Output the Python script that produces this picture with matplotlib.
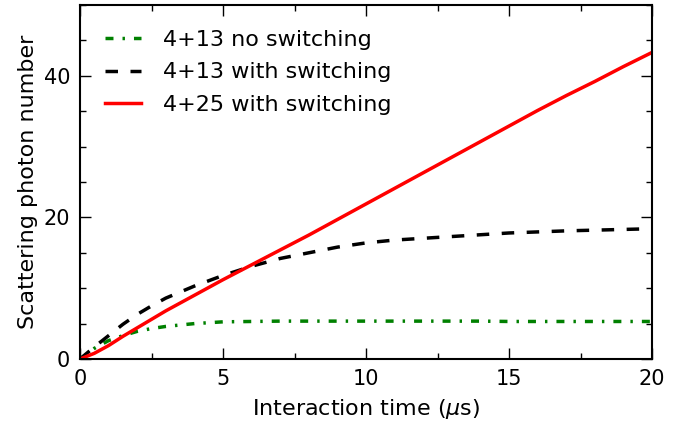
import matplotlib
matplotlib.use('Agg')
import matplotlib.pyplot as plt
from matplotlib.ticker import MultipleLocator

# interaction time (us)
t = [0, 0.5, 1, 1.5, 2, 2.5, 3, 4, 5, 6, 7, 8, 9, 10, 11, 12, 13, 14, 15, 16, 17, 18, 19, 20]

no_switch_13 = [0, 1.5, 2.6, 3.3, 3.9, 4.3, 4.6, 5.0, 5.25, 5.3, 5.35, 5.35, 5.35, 5.35, 5.35,
                5.35, 5.35, 5.35, 5.3, 5.3, 5.3, 5.3, 5.3, 5.3]
switch_13 = [0, 1.7, 3.3, 4.9, 6.3, 7.5, 8.6, 10.3, 11.8, 13.1, 14.2, 15.0, 15.8, 16.4, 16.8,
             17.05, 17.3, 17.55, 17.8, 17.95, 18.1, 18.2, 18.3, 18.4]
switch_25 = [0, 0.8, 1.9, 3.2, 4.4, 5.6, 6.8, 9.0, 11.2, 13.3, 15.4, 17.5, 19.7, 21.9, 24.1,
             26.3, 28.5, 30.7, 32.9, 35.1, 37.2, 39.2, 41.3, 43.3]

fig = plt.figure(figsize=(6.85, 4.26), dpi=100)
ax = fig.add_axes([80 / 685, 1 - 359 / 426, 572 / 685, 354 / 426])

ax.plot(t, no_switch_13, color='green', lw=2.5, dashes=(2.3, 2.6, 0.7, 2.6),
        label='4+13 no switching')
ax.plot(t, switch_13, color='black', lw=2.5, dashes=(3.6, 3.6),
        label='4+13 with switching')
ax.plot(t, switch_25, color='red', ls='-', lw=2.5, label='4+25 with switching')

ax.set_xlim(0, 20)
ax.set_ylim(0, 50)
ax.xaxis.set_major_locator(MultipleLocator(5))
ax.xaxis.set_minor_locator(MultipleLocator(2.5))
ax.yaxis.set_major_locator(MultipleLocator(20))
ax.yaxis.set_minor_locator(MultipleLocator(5))
ax.tick_params(which='both', direction='in', top=True, right=True, labelsize=15, pad=7)
ax.tick_params(which='major', length=8, width=1)
ax.tick_params(which='minor', length=4, width=1)
for s in ax.spines.values():
    s.set_linewidth(1.5)

ax.set_xlabel(r'Interaction time ($\mu$s)', fontsize=16, labelpad=6)
ax.set_ylabel('Scattering photon number', fontsize=16, labelpad=4)

ax.legend(loc='upper left', frameon=False, fontsize=16, handlelength=1.6,
          handletextpad=1.0, borderaxespad=0.73, labelspacing=0.55)

fig.savefig('out.png', dpi=100)
